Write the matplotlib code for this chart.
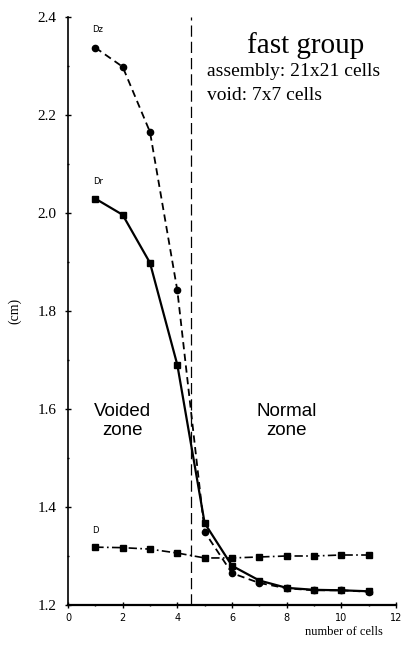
import matplotlib.pyplot as plt
from matplotlib.ticker import MultipleLocator, FormatStrFormatter

cells = [1, 2, 3, 4, 5, 6, 7, 8, 9, 10, 11]
dz = [2.337, 2.298, 2.165, 1.842, 1.349, 1.265, 1.245, 1.234, 1.230, 1.230, 1.227]
dr = [2.029, 1.996, 1.898, 1.690, 1.367, 1.280, 1.250, 1.235, 1.231, 1.230, 1.228]
d = [1.318, 1.317, 1.314, 1.306, 1.296, 1.296, 1.298, 1.300, 1.300, 1.302, 1.302]
void_edge = 4.5

fig = plt.figure(figsize=(4.07, 6.45), dpi=100)
ax = fig.add_axes([0.167, 0.062, 0.806, 0.912])

ax.plot(cells, dz, color='black', linestyle=(0, (4, 2.5)), linewidth=1.3,
        marker='o', markersize=4.5)
ax.plot(cells, dr, color='black', linestyle='-', linewidth=1.6,
        marker='s', markersize=5)
ax.plot(cells, d, color='black', linestyle=(0, (5, 2, 1, 2)), linewidth=1.2,
        marker='s', markersize=4.5)
ax.axvline(void_edge, color='black', linestyle=(0, (9, 4)), linewidth=0.9)

ax.set_xlim(0, 12)
ax.set_ylim(1.2, 2.4)
ax.xaxis.set_major_locator(MultipleLocator(2))
ax.xaxis.set_minor_locator(MultipleLocator(1))
ax.yaxis.set_major_locator(MultipleLocator(0.2))
ax.yaxis.set_minor_locator(MultipleLocator(0.1))
ax.yaxis.set_major_formatter(FormatStrFormatter('%.1f'))
ax.spines['top'].set_visible(False)
ax.spines['right'].set_visible(False)
ax.spines['left'].set_linewidth(1.2)
ax.spines['bottom'].set_linewidth(1.6)
ax.tick_params(axis='both', which='major', length=4, width=1, direction='inout')
ax.tick_params(axis='both', which='minor', length=2, width=1, direction='inout')
ax.tick_params(axis='x', labelsize=7)
ax.tick_params(axis='y', labelsize=11, pad=6)
for lab in ax.get_yticklabels():
    lab.set_family('Liberation Serif')

ax.set_ylabel('(cm)', family='Liberation Serif', fontsize=10, labelpad=12)
ax.set_xlabel('number of cells', family='Liberation Serif', fontsize=9,
              labelpad=1)
ax.xaxis.set_label_coords(0.84, -0.035)

ax.text(1.1, 2.375, 'Dz', fontsize=6, ha='center', va='center')
ax.text(1.1, 2.063, 'Dr', fontsize=6, ha='center', va='center')
ax.text(1.0, 1.353, 'D', fontsize=6, ha='center', va='center')

ax.text(8.7, 2.342, 'fast group', family='Liberation Serif', fontsize=21,
        ha='center', va='center')
ax.text(5.1, 2.289, 'assembly: 21x21 cells', family='Liberation Serif',
        fontsize=14, ha='left', va='center', clip_on=False)
ax.text(5.1, 2.240, 'void: 7x7 cells', family='Liberation Serif',
        fontsize=14, ha='left', va='center')

ax.text(2.0, 1.575, 'Voided\nzone', family='Liberation Sans', fontsize=13.5,
        ha='center', va='center', linespacing=1.15)
ax.text(8.0, 1.575, 'Normal\nzone', family='Liberation Sans', fontsize=13.5,
        ha='center', va='center', linespacing=1.15)

fig.savefig('out.png', dpi=100)
